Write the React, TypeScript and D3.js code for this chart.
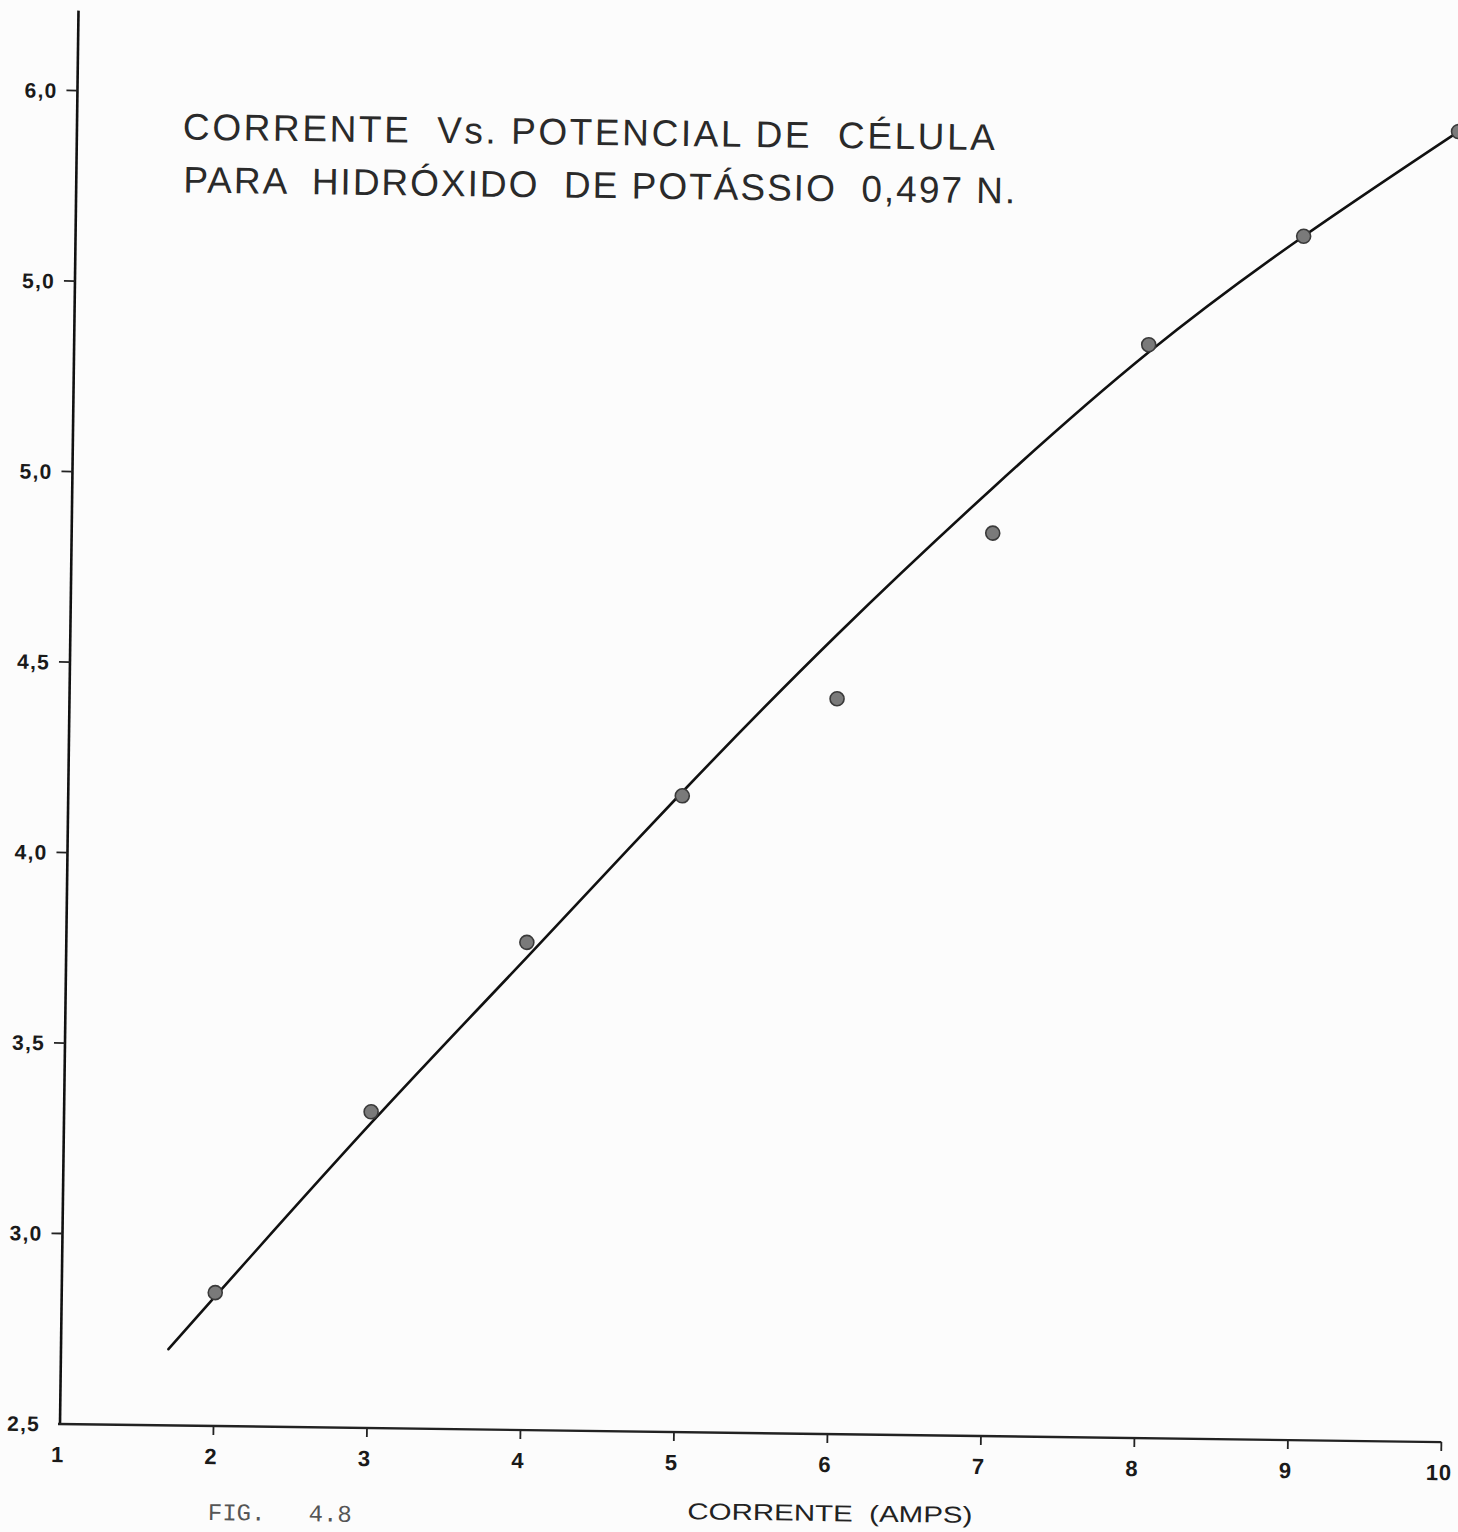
import React from "react";
import * as d3 from "d3";

// ---- data ----
const currentAmps = [2, 3, 4, 5, 6, 7, 8, 9, 10];
const cellPotential = [2.85, 3.33, 3.78, 4.17, 4.43, 4.87, 5.37, 5.66, 5.94];

const fitCurrent = [1.7, 2, 3, 4, 5, 6, 7, 8, 9, 10];
const fitPotential = [2.7, 2.84, 3.3, 3.74, 4.18, 4.6, 4.99, 5.35, 5.66, 5.94];

const xTickValues = [1, 2, 3, 4, 5, 6, 7, 8, 9, 10];
const xTickLabels = ["1", "2", "3", "4", "5", "6", "7", "8", "9", "10"];
const yTickValues = [2.5, 3.0, 3.5, 4.0, 4.5, 5.0, 5.5, 6.0];
const yTickLabels = ["2,5", "3,0", "3,5", "4,0", "4,5", "5,0", "5,0", "6,0"];

const titleLines = [
  "CORRENTE  Vs. POTENCIAL DE  CÉLULA",
  "PARA  HIDRÓXIDO  DE POTÁSSIO  0,497 N.",
];
const xAxisTitle = "CORRENTE  (AMPS)";
const figLabel = "FIG.   4.8";

const X_DOMAIN = [1, 10];
const Y_DOMAIN = [2.5, 6.0];
const Y_AXIS_TOP = 6.21;

// ---- layout ----
const W = 1458;
const H = 1532;
const ORIGIN_X = 60;
const ORIGIN_Y = 1424;
const SKEW_DEG = 0.75;

export default function App() {
  const x = d3.scaleLinear().domain(X_DOMAIN).range([ORIGIN_X, ORIGIN_X + 9 * 153.5]);
  const y = d3.scaleLinear().domain(Y_DOMAIN).range([ORIGIN_Y, ORIGIN_Y - 3.5 * 381]);

  const fitLine = d3
    .line<number>()
    .x((_, i) => x(fitCurrent[i]))
    .y((d) => y(d))
    .curve(d3.curveNatural);

  const labelFont = "'Liberation Sans', Arial, sans-serif";

  return (
    <svg
      width={W}
      height={H}
      viewBox={`0 0 ${W} ${H}`}
      style={{ position: "absolute", left: 0, top: 0, background: "#fcfcfc" }}
    >
      <rect x={0} y={0} width={W} height={H} fill="#fcfcfc" />
      <g transform={`rotate(${SKEW_DEG} ${ORIGIN_X} ${ORIGIN_Y})`}>
        {/* axes */}
        <line
          x1={x(1)}
          y1={y(2.5)}
          x2={x(1)}
          y2={y(Y_AXIS_TOP)}
          stroke="#111"
          strokeWidth={2.6}
        />
        <line
          x1={x(1) - 2}
          y1={y(2.5)}
          x2={x(10)}
          y2={y(2.5)}
          stroke="#222"
          strokeWidth={2.4}
        />

        {/* y ticks */}
        {yTickValues.map((v, i) => (
          <g key={"yt" + i}>
            {v > Y_DOMAIN[0] && (
              <line
                x1={x(1) - 11}
                x2={x(1)}
                y1={y(v)}
                y2={y(v)}
                stroke="#222"
                strokeWidth={1.8}
              />
            )}
            <text
              x={x(1) - 20}
              y={y(v)}
              textAnchor="end"
              dominantBaseline="central"
              fontFamily={labelFont}
              fontSize={21}
              fontWeight={600}
              letterSpacing={1.2}
              fill="#1a1a1a"
            >
              {yTickLabels[i]}
            </text>
          </g>
        ))}

        {/* x ticks */}
        {xTickValues.map((v, i) => (
          <g key={"xt" + i}>
            {v > X_DOMAIN[0] && (
              <line
                x1={x(v)}
                x2={x(v)}
                y1={y(2.5)}
                y2={y(2.5) + 9}
                stroke="#222"
                strokeWidth={1.8}
              />
            )}
            <text
              x={x(v) - 2}
              y={y(2.5) + 38}
              textAnchor="middle"
              fontFamily={labelFont}
              fontSize={22}
              fontWeight={600}
              letterSpacing={1}
              fill="#1a1a1a"
            >
              {xTickLabels[i]}
            </text>
          </g>
        ))}

        {/* fitted curve */}
        <path
          d={fitLine(fitPotential) || ""}
          fill="none"
          stroke="#111"
          strokeWidth={2.6}
          strokeLinecap="round"
        />

        {/* measured points */}
        {currentAmps.map((c, i) => (
          <circle
            key={"p" + i}
            cx={x(c)}
            cy={y(cellPotential[i])}
            r={7}
            fill="#7a7a7a"
            stroke="#3a3a3a"
            strokeWidth={1.6}
          />
        ))}

        {/* title */}
        <text
          x={166}
          y={138}
          fontFamily={labelFont}
          fontSize={37}
          fill="#2a2a2a"
          textLength={812}
          lengthAdjust="spacing"
          style={{ whiteSpace: "pre" }}
        >
          {titleLines[0]}
        </text>
        <text
          x={167}
          y={191}
          fontFamily={labelFont}
          fontSize={37}
          fill="#2a2a2a"
          textLength={832}
          lengthAdjust="spacing"
          style={{ whiteSpace: "pre" }}
        >
          {titleLines[1]}
        </text>

        {/* x axis title */}
        <text
          x={831}
          y={1511}
          textAnchor="middle"
          fontFamily={labelFont}
          fontSize={23}
          fill="#222"
          textLength={285}
          lengthAdjust="spacingAndGlyphs"
          style={{ whiteSpace: "pre" }}
        >
          {xAxisTitle}
        </text>

        {/* figure label */}
        <text
          x={209}
          y={1518}
          fontFamily="'Liberation Mono', 'DejaVu Sans Mono', monospace"
          fontSize={24}
          fill="#555"
          style={{ whiteSpace: "pre" }}
        >
          {figLabel}
        </text>
      </g>
    </svg>
  );
}
